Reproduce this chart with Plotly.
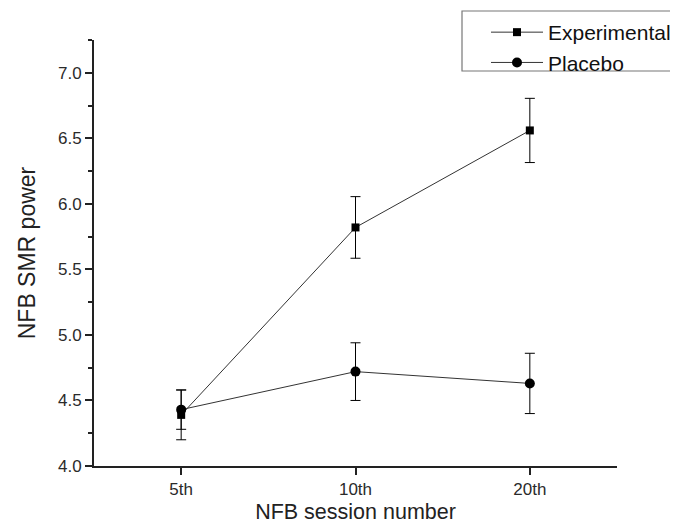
import plotly.graph_objects as go

sessions = ["5th", "10th", "20th"]
exp_mean = [4.39, 5.82, 6.56]
exp_err = [0.19, 0.235, 0.245]
pla_mean = [4.43, 4.72, 4.63]
pla_err = [0.15, 0.22, 0.23]

# page body has an 8px margin, so the figure is laid out in its own coordinates
L, R, T, B = 86, 61, 32, 66
PW, PH = 670 - L - R, 524 - T - B

def px(xf):
    return (xf - L) / PW

def py(yf):
    return 1 + (T - yf) / PH

fig = go.Figure()
fig.add_trace(go.Scatter(
    x=sessions, y=exp_mean, name="Experimental", mode="lines+markers",
    line=dict(color="#333333", width=1),
    marker=dict(symbol="square", size=8, color="black"),
    error_y=dict(type="data", array=exp_err, color="black", thickness=1, width=5),
))
fig.add_trace(go.Scatter(
    x=sessions, y=pla_mean, name="Placebo", mode="lines+markers",
    line=dict(color="#333333", width=1),
    marker=dict(symbol="circle", size=10, color="black"),
    error_y=dict(type="data", array=pla_err, color="black", thickness=1, width=5),
))

# legend frame (extends off the right edge as in the reference)
fig.add_shape(type="rect", xref="paper", yref="paper",
              x0=px(454), x1=px(720), y0=py(63), y1=py(3),
              line=dict(color="#777777", width=1.2), fillcolor="rgba(0,0,0,0)")

fig.update_layout(
    width=670, height=524,
    margin=dict(l=L, r=R, t=T, b=B, autoexpand=False),
    plot_bgcolor="white", paper_bgcolor="white",
    font=dict(family="Liberation Sans, Arial", color="#222222"),
    showlegend=True,
    legend=dict(
        x=px(478), y=py(4), xanchor="left", yanchor="top",
        borderwidth=0, bgcolor="rgba(0,0,0,0)",
        font=dict(size=21, color="#111111"),
        tracegroupgap=0, itemwidth=52,
    ),
    xaxis=dict(
        title=dict(text="NFB session number", font=dict(size=21.5), standoff=6),
        type="category", range=[-0.5, 2.5], automargin=False,
        showline=True, linecolor="#222222", linewidth=1.5,
        ticks="outside", ticklen=7, tickcolor="#222222", tickwidth=1.5,
        showgrid=False, zeroline=False,
        tickfont=dict(size=17, color="#2a2a2a"),
    ),
    yaxis=dict(
        title=dict(text="NFB SMR power", font=dict(size=23), standoff=16),
        range=[4.0, 7.25], dtick=0.5, tick0=4.0, tickformat=".1f", automargin=False,
        showline=True, linecolor="#222222", linewidth=2,
        ticks="outside", ticklen=7, tickcolor="#222222", tickwidth=1.5,
        minor=dict(dtick=0.25, ticks="outside", ticklen=4, tickcolor="#222222", tickwidth=1.5),
        showgrid=False, zeroline=False,
        tickfont=dict(size=17, color="#2a2a2a"),
    ),
)

fig.write_html("out.html")
